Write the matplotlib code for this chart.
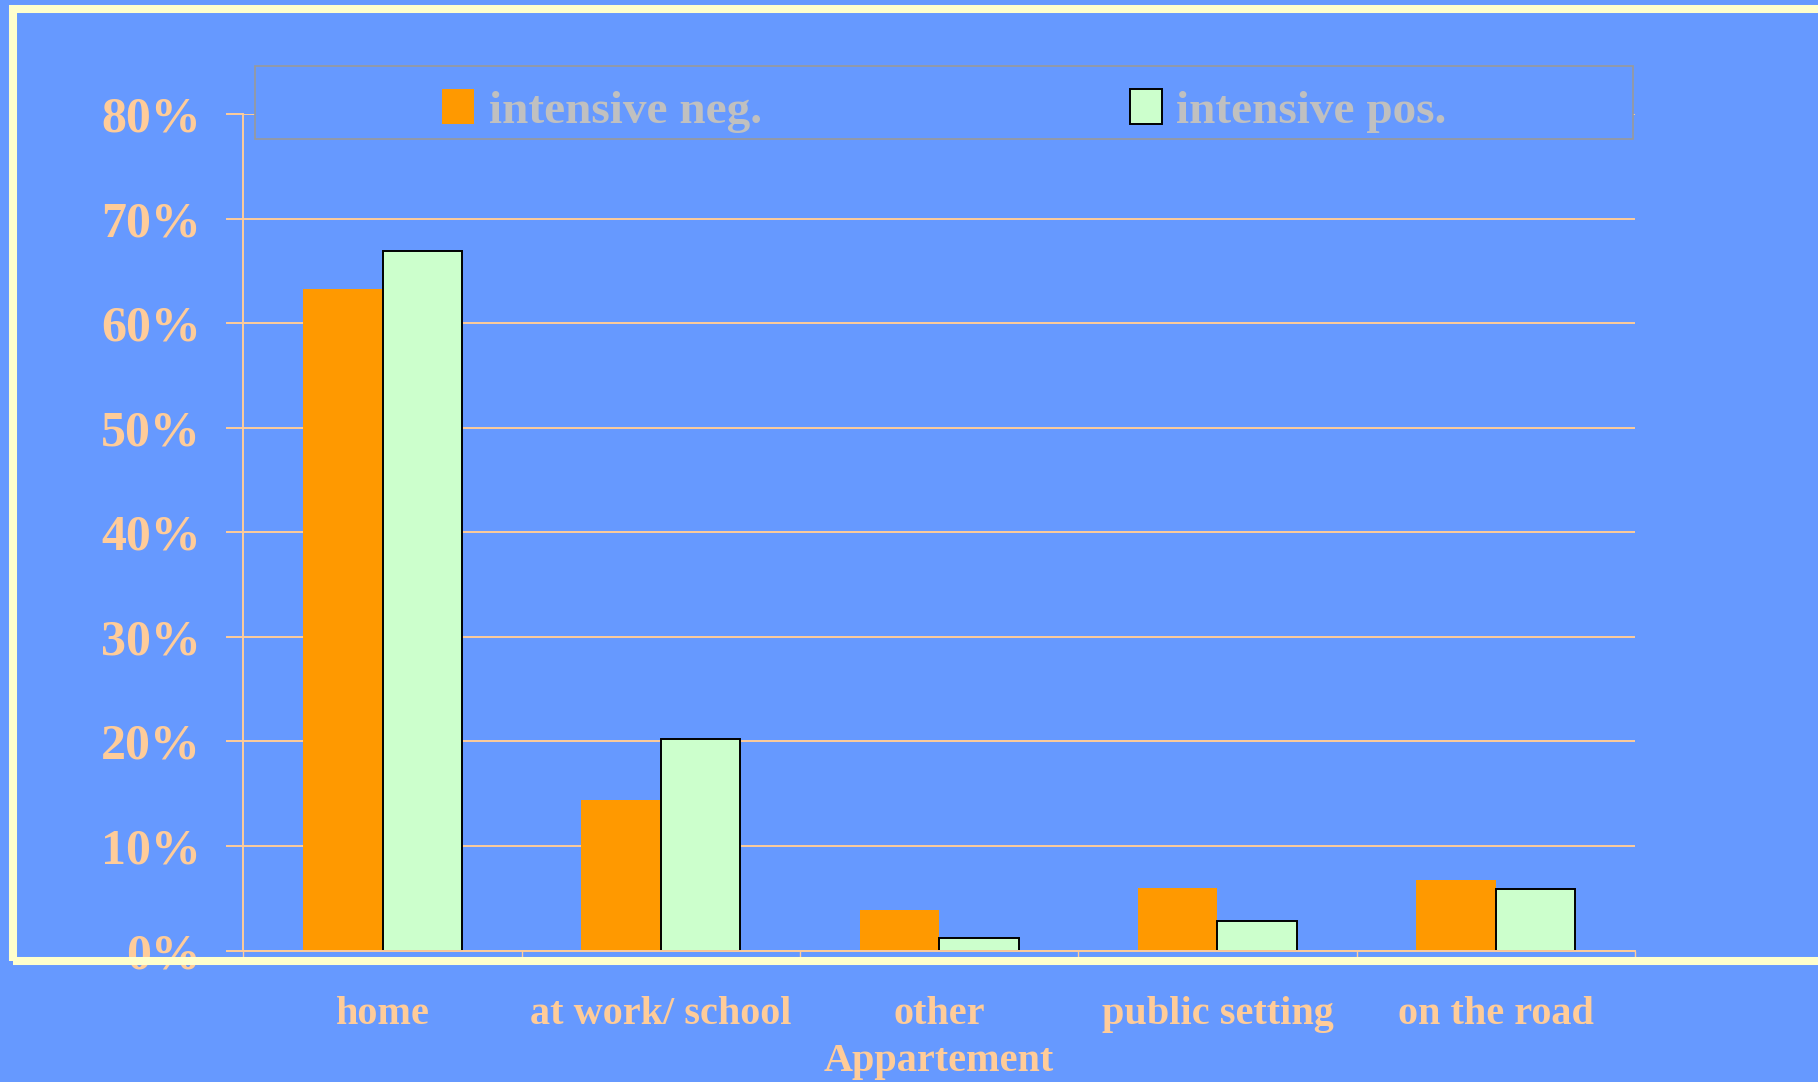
import matplotlib
matplotlib.use("Agg")
import matplotlib.pyplot as plt
import numpy as np
from matplotlib.patches import Rectangle

# --- Data ---
categories = ["home", "at work/ school", "other\nAppartement", "public setting", "on the road"]
intensive_neg = [63.3, 14.4, 3.9, 6.0, 6.7]
intensive_pos = [66.9, 20.2, 1.2, 2.8, 5.9]
series_labels = ["intensive neg.", "intensive pos."]
y_ticks = [0, 10, 20, 30, 40, 50, 60, 70, 80]

# --- Colours ---
BG = "#6699FF"
PEACH = "#FFCC99"
ORANGE = "#FF9900"
MINT = "#CCFFCC"
CREAM = "#FFFFCC"
GREY_TEXT = "#C0C0C0"
GREY_BOX = "#999999"

plt.rcParams["font.family"] = ["Liberation Serif", "DejaVu Serif"]
plt.rcParams["font.weight"] = "bold"

fig = plt.figure(figsize=(18.18, 10.82), dpi=100, facecolor=BG)
ax = fig.add_axes([0.1339, 0.1215, 0.7654, 0.7731])
ax.set_facecolor(BG)

x = np.arange(len(categories))
w = 1 / 3.5  # Excel style gap width 150%
bars_neg = ax.bar(x - w / 2, intensive_neg, w, color=ORANGE, linewidth=0)
bars_pos = ax.bar(x + w / 2, intensive_pos, w, color=MINT, edgecolor="black", linewidth=1.4)

ax.set_xlim(-0.5, len(categories) - 0.5)
ax.set_ylim(0, 80)

# category boundaries as major ticks, labels on minor ticks
ax.set_xticks(np.arange(-0.5, len(categories), 1))
ax.set_xticklabels([])
ax.set_xticks(x, minor=True)
ax.set_xticklabels(categories, minor=True, fontsize=29, color=PEACH)
for lbl in ax.get_xticklabels(minor=True):
    lbl.set_linespacing(1.33)
ax.tick_params(axis="x", which="major", length=5, width=1, color=PEACH, direction="out")
ax.tick_params(axis="x", which="minor", length=0, pad=33)

ax.set_yticks(y_ticks)
ax.set_yticklabels([f"{v}%" for v in y_ticks], fontsize=36, color=PEACH)
ax.tick_params(axis="y", length=12, width=1.4, color=PEACH, pad=18.5)

ax.yaxis.grid(True, color=PEACH, linewidth=1.4)
ax.set_axisbelow(True)

for side in ["top", "right"]:
    ax.spines[side].set_visible(False)
for side in ["left", "bottom"]:
    ax.spines[side].set_color(PEACH)
    ax.spines[side].set_linewidth(1.4)

# legend box (covers the 80% gridline like in the original)
box = Rectangle((0.1405, 0.8711), 0.758, 0.0679, transform=fig.transFigure,
                facecolor=BG, edgecolor=GREY_BOX, linewidth=1.2, zorder=3)
fig.add_artist(box)

leg = fig.legend([bars_neg, bars_pos], series_labels, loc="center",
                 bbox_to_anchor=(0.5195, 0.8974), ncol=2, frameon=False,
                 prop={"size": 34, "weight": "bold"}, labelcolor=GREY_TEXT,
                 handlelength=0.68, handleheight=0.76, handletextpad=0.3,
                 columnspacing=7.8, borderpad=0)
leg.set_zorder(5)

# cream slide frame
frame = Rectangle((13 / 1818, 1 - 961 / 1082), 1.02, (961 - 8.5) / 1082,
                  transform=fig.transFigure, fill=False, edgecolor=CREAM,
                  linewidth=5.8, zorder=4)
fig.add_artist(frame)

fig.savefig("out.png", dpi=100, facecolor=BG)
